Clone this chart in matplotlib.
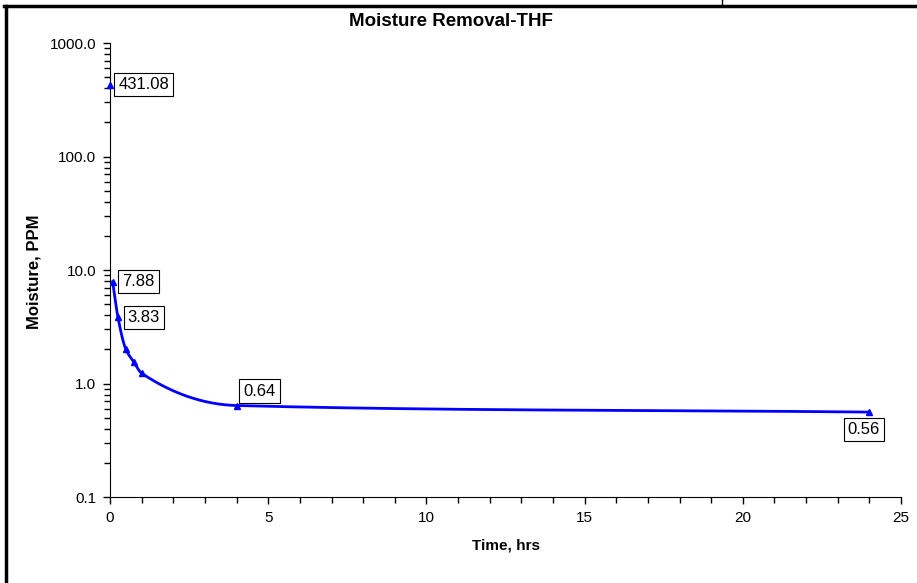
import numpy as np
import matplotlib
matplotlib.use("Agg")
import matplotlib.pyplot as plt
from matplotlib.lines import Line2D
from matplotlib.ticker import FixedLocator, LogLocator, NullFormatter, FuncFormatter

plt.rcParams['font.family'] = ['Liberation Sans', 'DejaVu Sans']

# moisture readings, hours vs ppm
time_hrs = [0.083, 0.25, 0.5, 0.75, 1.0, 4.0, 24.0]
moisture = [7.88, 3.83, 2.0, 1.55, 1.23, 0.64, 0.56]
start_time = [0.0]
start_moisture = [431.08]

labels = {0: "7.88", 1: "3.83", 5: "0.64", 6: "0.56"}
label_offsets = {0: (7, 0, 'left', 'center'), 1: (7, 0, 'left', 'center'),
                 5: (5, 5, 'left', 'bottom'), 6: (-4, -7, 'center', 'top')}


def smooth(xs, ys, n=60):
    # smoothed line for drawing (monotone cubic in x / log y)
    x = np.array(xs, float)
    y = np.log10(np.array(ys, float))
    h = np.diff(x)
    d = np.diff(y) / h
    m = np.zeros_like(x)
    for k in range(1, len(x) - 1):
        if d[k - 1] * d[k] > 0:
            w1 = 2 * h[k] + h[k - 1]
            w2 = h[k] + 2 * h[k - 1]
            m[k] = (w1 + w2) / (w1 / d[k - 1] + w2 / d[k])
    m[0] = d[0]
    m[-1] = d[-1]
    ox, oy = [], []
    for k in range(len(x) - 1):
        t = np.linspace(0, 1, n)
        h00 = 2 * t ** 3 - 3 * t ** 2 + 1
        h10 = t ** 3 - 2 * t ** 2 + t
        h01 = -2 * t ** 3 + 3 * t ** 2
        h11 = t ** 3 - t ** 2
        ox.extend(x[k] + t * h[k])
        oy.extend(h00 * y[k] + h10 * h[k] * m[k] + h01 * y[k + 1] + h11 * h[k] * m[k + 1])
    return np.array(ox), 10 ** np.array(oy)


fig = plt.figure(figsize=(9.17, 5.83), dpi=100)
ax = fig.add_axes([0.12, 0.1475, 0.8626, 0.7787])

sx, sy = smooth(time_hrs, moisture)
ax.plot(sx, sy, color='#0000ff', lw=2.0, clip_on=False, zorder=3)
ax.plot(time_hrs, moisture, ls='none', marker='^', ms=5, color='#0000ff', clip_on=False, zorder=4)
ax.plot(start_time, start_moisture, ls='none', marker='^', ms=5, color='#0000ff', clip_on=False, zorder=4)

box = dict(boxstyle='square,pad=0.25', fc='white', ec='black', lw=0.8)
ax.annotate("431.08", (start_time[0], start_moisture[0]), xytext=(6, 0), textcoords='offset points',
            ha='left', va='center', fontsize=12, bbox=box)
for i, txt in labels.items():
    dx, dy, ha, va = label_offsets[i]
    ax.annotate(txt, (time_hrs[i], moisture[i]), xytext=(dx, dy), textcoords='offset points',
                ha=ha, va=va, fontsize=12, bbox=box)

ax.set_yscale('log')
ax.set_ylim(0.1, 1000)
ax.set_xlim(0, 25)
ax.xaxis.set_major_locator(FixedLocator([0, 5, 10, 15, 20, 25]))
ax.xaxis.set_minor_locator(FixedLocator(range(0, 26)))
ax.yaxis.set_major_locator(LogLocator(base=10, numticks=10))
ax.yaxis.set_minor_locator(LogLocator(base=10, subs=np.arange(2, 10), numticks=10))
ax.yaxis.set_minor_formatter(NullFormatter())
ax.yaxis.set_major_formatter(FuncFormatter(lambda v, p: "%.1f" % v))

for lab in ax.get_xticklabels() + ax.get_yticklabels():
    lab.set_fontsize(11)
ax.tick_params(which='major', length=5, width=1, pad=5)
ax.tick_params(which='minor', length=4, width=1)
ax.spines['top'].set_visible(False)
ax.spines['right'].set_visible(False)

ax.set_xlabel("Time, hrs", fontsize=11, fontweight='bold', labelpad=10)
fig.text(34 / 917, 1 - 272 / 583, "Moisture, PPM", rotation=90, ha='center', va='center',
         fontsize=12, fontweight='bold')
fig.text(451 / 917, 1 - 22 / 583, "Moisture Removal-THF", ha='center', va='center',
         fontsize=13.5, fontweight='bold')

# outer chart frame
fig.add_artist(Line2D([5.5 / 917, 5.5 / 917], [0, 1 - 5.5 / 583], color='black', lw=2.5))
fig.add_artist(Line2D([4 / 917, 1], [1 - 5.5 / 583, 1 - 5.5 / 583], color='black', lw=2.5))
fig.add_artist(Line2D([722 / 917, 722 / 917], [1 - 5 / 583, 1], color='black', lw=1))

fig.savefig("out.png", dpi=100)
